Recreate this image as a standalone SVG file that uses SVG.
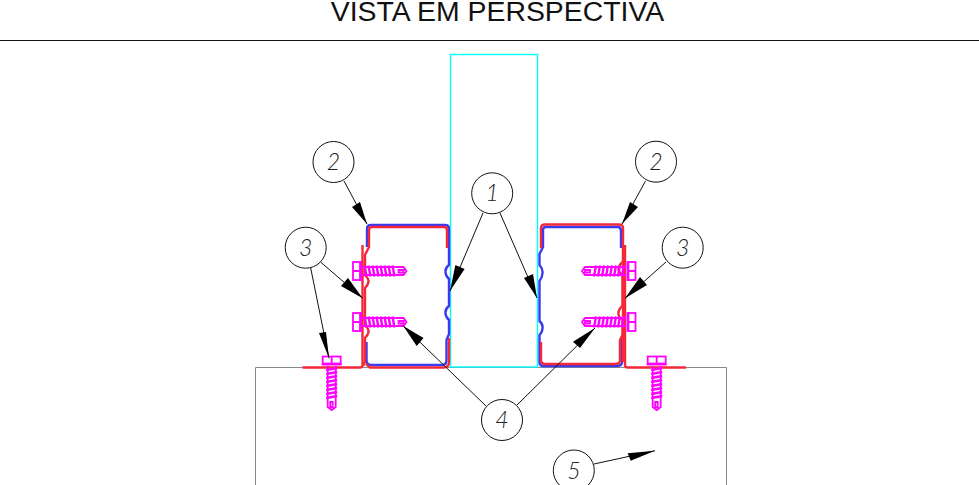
<svg xmlns="http://www.w3.org/2000/svg" width="979" height="485" viewBox="0 0 979 485">
<style>
text{font-family:"Liberation Sans",Arial,sans-serif;fill:#111}
.n{font-family:Lato,"Liberation Sans",sans-serif;font-size:23px;font-style:italic;text-anchor:middle;font-weight:300;fill:#222}
.ball{fill:#fff;stroke:#111;stroke-width:1}
.lead{stroke:#111;stroke-width:1;fill:none}
.head{fill:#000;stroke:none}
.b{fill:none;stroke:#3a3af0;stroke-width:2.4}
.r{fill:none;stroke:#f5283a;stroke-width:2.4}
.s{fill:none;stroke:#f0f;stroke-width:1.8}
.t{fill:none;stroke:#f0f;stroke-width:2.4}
.c{fill:none;stroke:#0ff;stroke-width:1.4}
.g{fill:none;stroke:#8a8a8a;stroke-width:1}
</style>
<defs>
<g id="screw">
<rect class="s" x="0.5" y="-9" width="7" height="18"/>
<path class="s" d="M0.5,0H7.5M8.5,-10V10"/>
<path class="s" d="M10,-4H43M10,4H43"/>
<path class="t" d="M12,-5.5L14,5.5M16,-5.5L18,5.5M20,-5.5L22,5.5M24,-5.5L26,5.5M28,-5.5L30,5.5M32,-5.5L34,5.5M36,-5.5L38,5.5M40,-5.5L42,5.5"/>
<path class="s" d="M43,-4H51L54,0L51,4H43M46,-1H51V1.5H46Z"/>
</g>
</defs>
<text id="title" x="497.5" y="21" font-size="28.4" text-anchor="middle">VISTA EM PERSPECTIVA</text>
<path d="M0,40.5H979" stroke="#111" stroke-width="1" fill="none"/>
<g id="base-5"><path class="g" d="M255.5,485V367.5H726.5V485"/></g>
<g id="stud-1"><rect class="c" x="450.5" y="54.5" width="87" height="312.5"/></g>
<g id="profile-left">
<path class="b" d="M367,247V229Q367,225 371,225H445Q449,225 449,229V265Q445,268 445.5,272Q445.5,276 449,279V306Q445,309 445.5,313Q445.5,317 449,320V334L446.5,340V360Q446.5,365 442,365H371Q366.5,365 366.5,360V342"/>
<path class="r" d="M447,248V230Q447,227 444,227H372Q369,227 369,230V247L365,255V275Q369,279 368.5,282Q368,285 365,288V325Q369,329 368.5,332Q368,335 365,338V362L363,366"/>
<path class="r" d="M362.5,245V365Q362.5,367.5 360,367.5H302.5"/>
<path class="r" d="M366,364L370,367.5H444Q449,367 449,362V338"/>
</g>
<g id="profile-right">
<path class="b" d="M621,248V231Q621,227 618,227H546Q543,227 543,230V247L539.5,254V265Q543,269 542.5,273Q542.5,277 539.5,281V321Q543,324 542.5,328Q542.5,332 539.5,335V362Q539.5,366 543,366H617Q622,366 622,362V338"/>
<path class="r" d="M541,248V228Q541,224.5 545,224.5H619Q623,224.5 623,228V362"/>
<path class="r" d="M625,245V365Q625,367.5 628,367.5H686"/>
<path class="r" d="M541,342V360Q541,364 545,364H616Q620,364 620,360V340L622.5,335V320Q618,317 618.5,313Q618.5,309 622.5,306V275Q618,272 618.5,268Q619,265 622.5,262"/>
</g>
<g id="screw-left-1"><use href="#screw" transform="translate(352.5,271)"/></g>
<g id="screw-left-2"><use href="#screw" transform="translate(352.5,322)"/></g>
<g id="screw-left-3"><use href="#screw" transform="translate(331.7,356) rotate(90)"/></g>
<g id="screw-right-1"><use href="#screw" transform="translate(636,271) scale(-1,1)"/></g>
<g id="screw-right-2"><use href="#screw" transform="translate(636,322) scale(-1,1)"/></g>
<g id="screw-right-3"><use href="#screw" transform="translate(656.7,356) rotate(90)"/></g>
<g id="connectors">
<path class="lead" d="M344,181L367,224M320.5,262L362.7,298.3M310.7,268L329,358.3M483,213L450,291M500,213L537,298M486,406L403.3,326M517,405L595,328M645.5,181L622,224M666,262L625,298.3M594,464L655,450.7"/>
<polygon class="head" points="367,224 352,207 360,202"/>
<polygon class="head" points="362.7,298.3 341,286 348,278"/>
<polygon class="head" points="329,358.3 319,333 326,332"/>
<polygon class="head" points="450,291 455.4,265 464.6,269"/>
<polygon class="head" points="537,298 524,278 533,274"/>
<polygon class="head" points="403.3,326 416.7,346 423.5,338"/>
<polygon class="head" points="595,328 573,341.7 580,348"/>
<polygon class="head" points="622,224 630,202 638,207"/>
<polygon class="head" points="625,298.3 640,277 647,285"/>
<polygon class="head" points="655,450.7 627.7,453.3 630.7,460.7"/>
</g>
<g id="balloon-2-left"><circle class="ball" cx="333.5" cy="162" r="20.5"/><text class="n" x="333.5" y="170">2</text></g>
<g id="balloon-3-left"><circle class="ball" cx="305.7" cy="247.7" r="20.5"/><text class="n" x="305.7" y="255.7">3</text></g>
<g id="balloon-1"><circle class="ball" cx="492.2" cy="193.3" r="20.5"/><text class="n" x="492.2" y="201.3">1</text></g>
<g id="balloon-2-right"><circle class="ball" cx="656" cy="161.7" r="20.5"/><text class="n" x="656" y="169.7">2</text></g>
<g id="balloon-3-right"><circle class="ball" cx="682.7" cy="247.7" r="20.5"/><text class="n" x="682.7" y="255.7">3</text></g>
<g id="balloon-4"><circle class="ball" cx="502" cy="420" r="20.5"/><text class="n" x="502" y="428">4</text></g>
<g id="balloon-5"><circle class="ball" cx="573.8" cy="470.5" r="20.5"/><text class="n" x="573.8" y="478.5">5</text></g>
</svg>
